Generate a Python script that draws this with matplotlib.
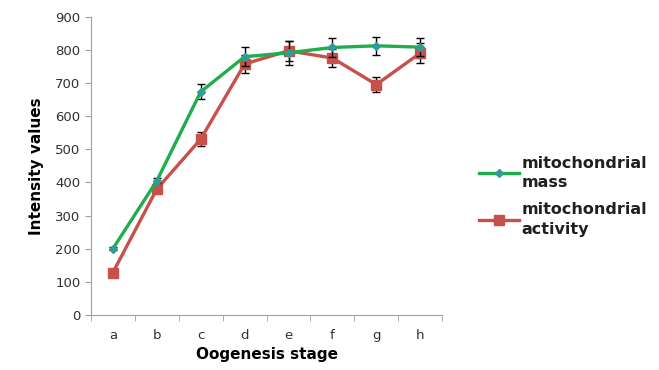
import matplotlib
matplotlib.use("Agg")
import matplotlib.pyplot as plt
import numpy as np

stages = ["a", "b", "c", "d", "e", "f", "g", "h"]
mass = [200, 405, 674, 780, 792, 808, 813, 809]
mass_err = [5, 8, 23, 28, 36, 30, 28, 28]
activity = [128, 380, 531, 758, 798, 776, 696, 791]
activity_err = [5, 8, 22, 27, 30, 26, 24, 30]

green = "#1fae4b"
red = "#c8504b"

fig = plt.figure(figsize=(6.59, 3.70), dpi=100)
ax = fig.add_axes([0.138, 0.149, 0.533, 0.805])

x = np.arange(len(stages))
ax.errorbar(x, mass, yerr=mass_err, color=green, lw=2.4, marker="D",
            ms=4, mfc="#2f9c96", mec="#2f9c96", ecolor="black",
            elinewidth=1, capsize=3, capthick=1, label="mitochondrial\nmass", zorder=3)
ax.errorbar(x, activity, yerr=activity_err, color=red, lw=2.4, marker="s",
            ms=7, mfc=red, mec=red, ecolor="black",
            elinewidth=1, capsize=3, capthick=1, label="mitochondrial\nactivity", zorder=2)

ax.set_xlim(-0.5, len(stages) - 0.5)
ax.set_ylim(0, 900)
ax.set_yticks(range(0, 901, 100))
ax.set_xticks(x)
ax.set_xticklabels(stages)
ax.set_xticks(np.arange(-0.5, len(stages), 1), minor=True)
ax.tick_params(axis="x", which="major", length=0, pad=10)
ax.tick_params(axis="x", which="minor", length=4, color="#a0a0a0")
ax.tick_params(axis="y", length=4, color="#a0a0a0")
ax.tick_params(labelsize=9.5, labelcolor="#303030")

for s in ["top", "right"]:
    ax.spines[s].set_visible(False)
for s in ["left", "bottom"]:
    ax.spines[s].set_color("#a0a0a0")

ax.set_ylabel("Intensity values", fontsize=11, fontweight="bold", labelpad=8)
ax.set_xlabel("Oogenesis stage", fontsize=11, fontweight="bold", labelpad=4)

handles, labels = ax.get_legend_handles_labels()
handles = [h[0] for h in handles]
leg = fig.legend(handles, labels, loc="center left", bbox_to_anchor=(0.705, 0.47),
                 frameon=False, prop={"weight": "bold", "size": 11.5},
                 handlelength=2.5, handletextpad=0.15, labelspacing=0.8)
for t in leg.get_texts():
    t.set_linespacing(1.35)
    t.set_color("#202020")

fig.savefig("out.png", dpi=100)
